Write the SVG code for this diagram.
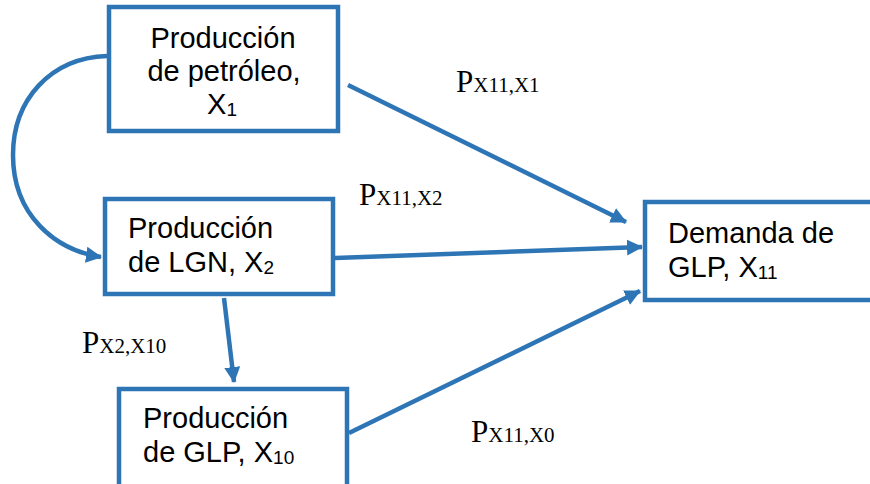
<svg xmlns="http://www.w3.org/2000/svg" width="870" height="484" viewBox="0 0 870 484">
<defs>
<style>
.box{fill:#fff;stroke:#2E75B6;stroke-width:4.5}
.t{font-family:"Liberation Sans",Arial,sans-serif;font-size:29px;fill:#000}
.sub{font-size:19px}
.lbl{font-family:"Liberation Serif","Times New Roman",serif;font-size:31px;fill:#000}
.ls{font-size:21px}
.c{fill:none;stroke:#2E75B6;stroke-width:4.5}
</style>
<marker id="ah" markerUnits="userSpaceOnUse" markerWidth="18" markerHeight="18" refX="15" refY="8" orient="auto" viewBox="0 0 18 16">
<path d="M0,0 L16,8 L0,16 z" fill="#2E75B6"/>
</marker>
</defs>
<rect width="870" height="484" fill="#fff"/>
<g id="connectors">
<path class="c" d="M107,56 C50,58 13,100 13,155 C13,215 55,250 101,257" marker-end="url(#ah)"/>
<line class="c" x1="348" y1="85" x2="626" y2="222" marker-end="url(#ah)"/>
<line class="c" x1="335" y1="258" x2="642" y2="247" marker-end="url(#ah)"/>
<line class="c" x1="349" y1="433" x2="640" y2="291" marker-end="url(#ah)"/>
<line class="c" x1="224" y1="298" x2="234" y2="382" marker-end="url(#ah)"/>
</g>
<g id="n1">
<rect class="box" x="109" y="7" width="229" height="124"/>
<text class="t" text-anchor="middle"><tspan x="223" y="48">Producción</tspan><tspan x="224" y="81">de petróleo,</tspan><tspan x="222" y="114">X<tspan class="sub" dy="2">1</tspan></tspan></text>
</g>
<g id="n2">
<rect class="box" x="105" y="199" width="228" height="95"/>
<text class="t"><tspan x="128" y="238">Producción</tspan><tspan x="128" y="272">de LGN, X<tspan class="sub" dy="2">2</tspan></tspan></text>
</g>
<g id="n3">
<rect class="box" x="119" y="389" width="228" height="110"/>
<text class="t"><tspan x="143" y="428">Producción</tspan><tspan x="143" y="462">de GLP, X<tspan class="sub" dy="2">10</tspan></tspan></text>
</g>
<g id="n4">
<rect class="box" x="645" y="202" width="240" height="98"/>
<text class="t"><tspan x="668" y="243">Demanda de</tspan><tspan x="668" y="277">GLP, X<tspan class="sub" dy="2">11</tspan></tspan></text>
</g>
<g id="labels">
<text class="lbl" x="456" y="92">P<tspan class="ls">X11,X1</tspan></text>
<text class="lbl" x="359" y="205">P<tspan class="ls">X11,X2</tspan></text>
<text class="lbl" x="82" y="353">P<tspan class="ls">X2,X10</tspan></text>
<text class="lbl" x="471" y="442">P<tspan class="ls">X11,X0</tspan></text>
</g>
</svg>
